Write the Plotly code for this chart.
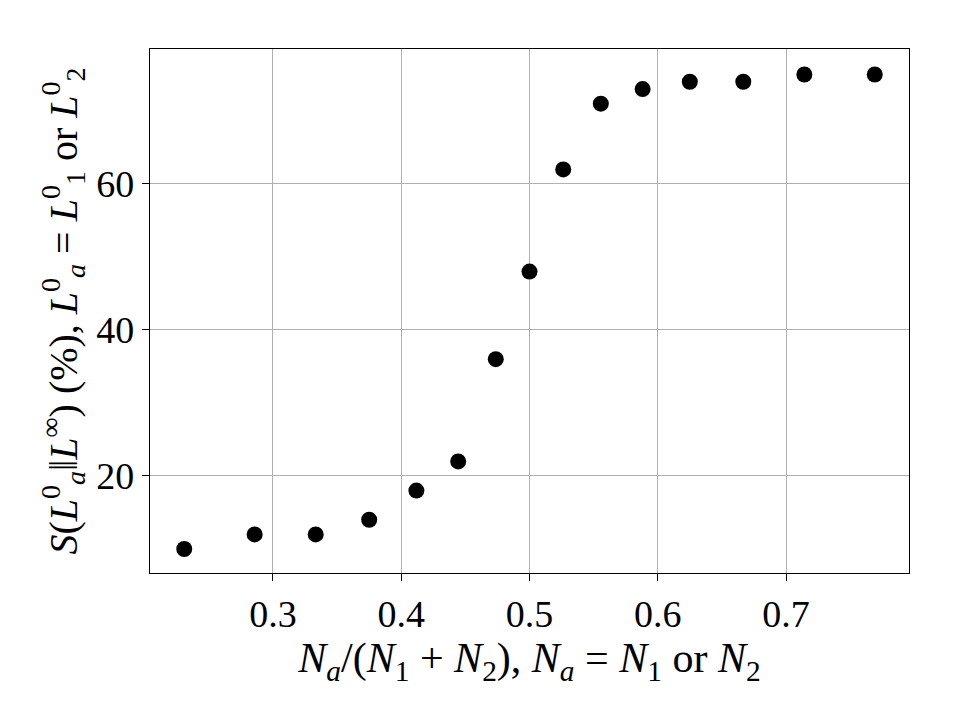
import plotly.graph_objects as go

ratio = [0.2308, 0.2857, 0.3333, 0.375, 0.4118, 0.4444, 0.4737, 0.5, 0.5263,
         0.5556, 0.5882, 0.625, 0.6667, 0.7143, 0.7692]
success = [10, 12, 12, 14, 18, 22, 36, 48, 62, 71, 73, 74, 74, 75, 75]
xticks = [0.3, 0.4, 0.5, 0.6, 0.7]
yticks = [20, 40, 60]

FONT = "Liberation Serif"

fig = go.Figure()
fig.add_trace(go.Scatter(x=ratio, y=success, mode="markers",
                         marker=dict(color="black", size=16, line=dict(width=0)),
                         showlegend=False))

axis_common = dict(showline=True, linecolor="black", linewidth=1.2, mirror=True,
                   showgrid=True, gridcolor="#b0b0b0", gridwidth=1,
                   ticks="outside", ticklen=7, tickwidth=1, tickcolor="black",
                   zeroline=False,
                   tickfont=dict(family=FONT, size=38, color="black"))

fig.update_xaxes(range=[0.2041, 0.7959], tickvals=xticks,
                 ticktext=[f"{v:.1f}" for v in xticks],
                 title=dict(text="<i>N</i><sub><i>a</i></sub>/(<i>N</i><sub>1</sub>\u2005+\u2005<i>N</i><sub>2</sub>), "
                                 "<i>N</i><sub><i>a</i></sub>\u2005=\u2005<i>N</i><sub>1</sub> or <i>N</i><sub>2</sub>",
                            font=dict(family=FONT, size=42, color="black"), standoff=0),
                 **axis_common)
fig.update_yaxes(range=[6.71, 78.49], tickvals=yticks,
                 ticktext=[str(v) for v in yticks],
                 title=dict(text="<i>S</i>(<i>L</i><sup>0</sup><sub><i>a</i></sub>‖<i>L</i><sup>∞</sup>) (%), "
                                 "<i>L</i><sup>0</sup><sub><i>a</i></sub> = <i>L</i><sup>0</sup><sub>1</sub> or "
                                 "<i>L</i><sup>0</sup><sub>2</sub>",
                            font=dict(family=FONT, size=40, color="black"), standoff=6),
                 **axis_common)

fig.update_layout(width=960, height=720,
                  margin=dict(l=150, r=51, t=49, b=147),
                  paper_bgcolor="white", plot_bgcolor="white")

fig.write_html("out.html")
